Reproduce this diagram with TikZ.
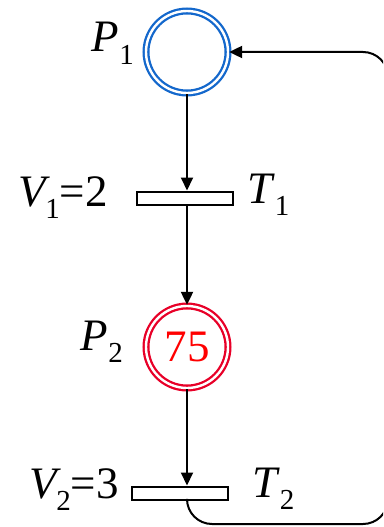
\documentclass[tikz,border=0pt]{standalone}
\usepackage{fontspec}
\setmainfont{Liberation Serif}
\usetikzlibrary{arrows.meta,positioning}
\definecolor{placeblue}{RGB}{20,104,204}
\definecolor{placered}{RGB}{232,0,40}
\newcommand{\lowsub}[1]{\raisebox{-0.28em}{\fontsize{29}{29}\selectfont #1}}

\begin{document}
\begin{tikzpicture}[x=1pt,y=-1pt,font=\fontsize{45}{45}\selectfont,
  place/.style={circle,draw,double=white,double distance=2.4pt,line width=2.3pt,
                minimum size=82pt,inner sep=0pt},
  trans/.style={draw,line width=2pt,fill=white,minimum width=96pt,
                minimum height=13pt,inner sep=0pt},
  flow/.style={line width=2pt,-{Triangle[length=13pt,width=12pt]}},
  lbl/.style={inner sep=0pt}]
\useasboundingbox (0,0) rectangle (383,527);
\clip (0,0) rectangle (383,527);
% places and transitions
\node[place,draw=placeblue] (P1) at (187,52) {};
\node[trans] (T1) at (184.5,198) {};
\node[place,draw=placered,text=red] (P2) at (187,347) {75};
\node[trans] (T2) at (180,493) {};
% labels
\node[lbl,anchor=base east] (lP1) at (134,52) {\textit{P}\lowsub{1}};
\node[lbl,anchor=base west] (lT1) at (247,203) {\textit{T}\lowsub{1}};
\node[lbl,anchor=base east] (lV1) at (108,206) {\textit{V}\kern-5pt\lowsub{1}=2};
\node[lbl,anchor=base east] (lP2) at (123,350) {\textit{P}\lowsub{2}};
\node[lbl,anchor=base west] (lT2) at (252,497) {\textit{T}\lowsub{2}};
\node[lbl,anchor=base east] (lV2) at (119,498) {\textit{V}\kern-5pt\lowsub{2}=3};
% arcs
\draw[flow] (P1.south) -- (P1.south |- T1.north);
\draw[flow] (P1.south |- T1.south) -- (P2.north);
\draw[flow] (P2.south) -- (P2.south |- T2.north);
% feedback loop T2 -> P1
\coordinate (loopBL) at (P2.south |- 0,524);
\coordinate (loopBR) at (388,524);
\coordinate (loopTR) at (388,0 |- P1.east);
\draw[flow,rounded corners=25pt] (P2.south |- T2.south) -- (loopBL) -- (loopBR)
   -- (loopTR) -- (P1.east);
\end{tikzpicture}
\end{document}
